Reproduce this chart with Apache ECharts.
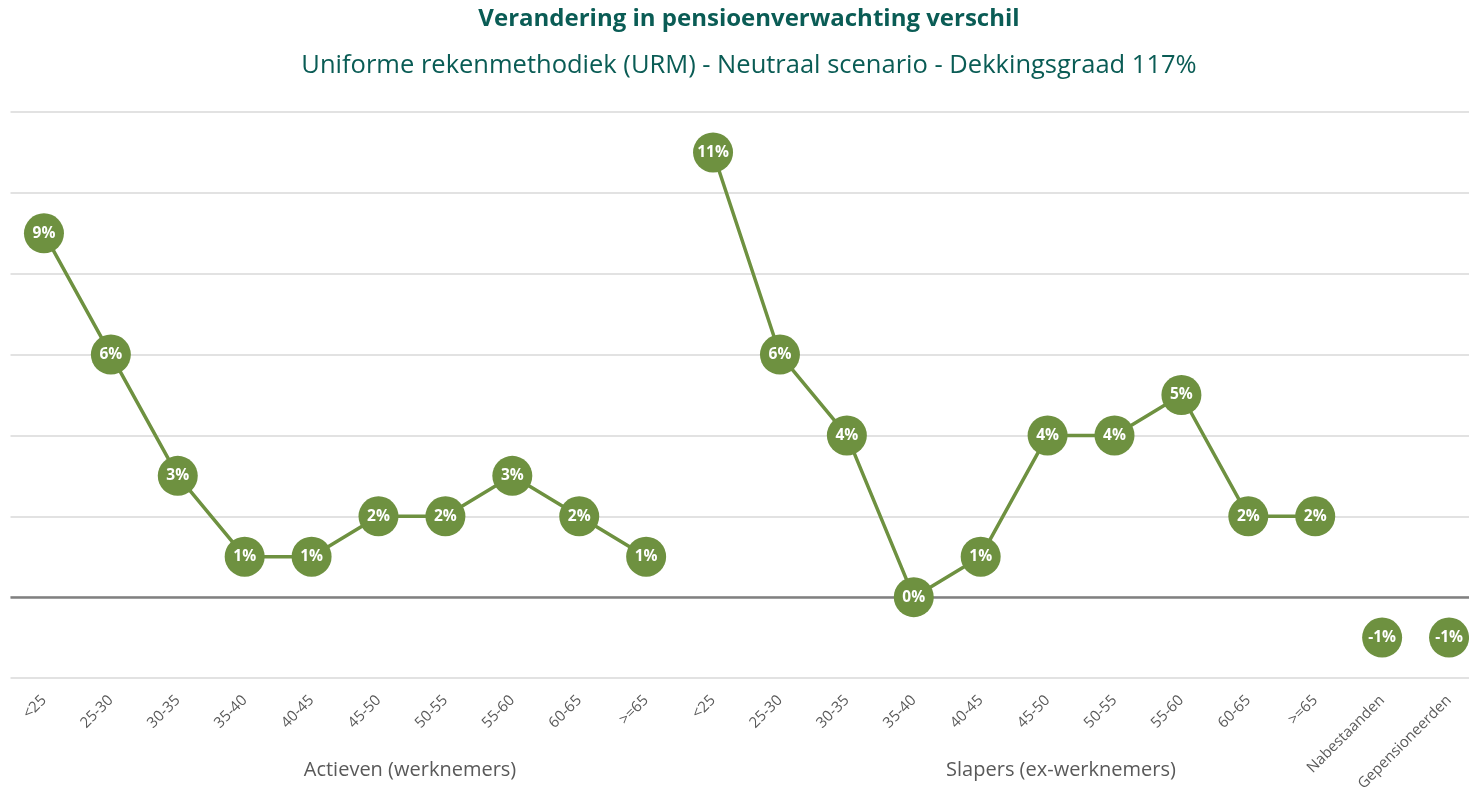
<!DOCTYPE html>
<html>
<head>
<meta charset="utf-8">
<script src="https://cdn.jsdelivr.net/npm/echarts@6/dist/echarts.min.js"></script>
<style>
  html, body { margin: 0; padding: 0; background: #fff; }
  #chart { width: 1469px; height: 798px; }
</style>
</head>
<body>
<div id="chart"></div>
<script>
const categories = [
  '<25', '25-30', '30-35', '35-40', '40-45', '45-50', '50-55', '55-60', '60-65', '>=65',
  '<25 ', '25-30 ', '30-35 ', '35-40 ', '40-45 ', '45-50 ', '50-55 ', '55-60 ', '60-65 ', '>=65 ',
  'Nabestaanden', 'Gepensioneerden'
]
const actieven = [9, 6, 3, 1, 1, 2, 2, 3, 2, 1]
const slapers = [11, 6, 4, 0, 1, 4, 4, 5, 2, 2]
const nabestaanden = [-1]
const gepensioneerden = [-1]
const groupLabels = ['Actieven (werknemers)', 'Slapers (ex-werknemers)']
const titleText = 'Verandering in pensioenverwachting verschil'
const subtitleText = 'Uniforme rekenmethodiek (URM) - Neutraal scenario - Dekkingsgraad 117%'

const green = '#6e9140'
const teal = '#0a5c55'
const font = 'Open Sans'

const pad = ( arr, before, total ) => {
  const out = []
  for ( let i = 0; i < total; i++ ) {
    const j = i - before
    out.push( j >= 0 && j < arr.length ? arr[j] : '-' )
  }
  return out
}

const n = categories.length
const makeSeries = ( name, values, offset ) => ( {
  name,
  type : 'line',
  z : 3,
  data : pad( values, offset, n ),
  connectNulls : false,
  symbol : 'circle',
  symbolSize : 40,
  lineStyle : { color : green, width : 3.5 },
  itemStyle : { color : green },
  label : {
    show : true,
    position : 'inside',
    color : '#fff',
    fontWeight : 'bold',
    fontSize : 15.5,
    fontFamily : font,
    formatter : p => p.value + '%'
  },
  emphasis : { disabled : true },
  animation : false
} )

const chart = echarts.init( document.getElementById( 'chart' ) )

chart.setOption( {
  grid : {
    left : 10.5,
    right : -13.5,
    top : 112,
    bottom : 120,
    containLabel : false,
    outerBoundsMode : 'none'
  },
  xAxis : {
    type : 'category',
    data : categories,
    boundaryGap : true,
    axisLine : { show : false },
    axisTick : { show : false },
    axisLabel : {
      interval : 0,
      rotate : 45,
      margin : 20,
      color : '#595959',
      fontSize : 15,
      fontFamily : font,
      formatter : v => v.trim()
    },
    splitLine : { show : false }
  },
  yAxis : {
    type : 'value',
    min : -2,
    max : 12,
    interval : 2,
    axisLabel : { show : false },
    axisLine : { show : false },
    axisTick : { show : false },
    splitLine : { lineStyle : { color : '#d9d9d9', width : 1.5 } }
  },
  series : [
    {
      // zero line, kept under the markers
      type : 'line',
      z : 1,
      data : [],
      silent : true,
      markLine : {
        z : 1,
        symbol : 'none',
        silent : true,
        label : { show : false },
        lineStyle : { color : '#808080', width : 2.5, type : 'solid' },
        data : [{ yAxis : 0 }]
      }
    },
    makeSeries( 'Actieven', actieven, 0 ),
    makeSeries( 'Slapers', slapers, 10 ),
    makeSeries( 'Nabestaanden', nabestaanden, 20 ),
    makeSeries( 'Gepensioneerden', gepensioneerden, 21 )
  ],
  graphic : [
    {
      type : 'text',
      x : 749,
      y : 7,
      style : { text : titleText, fill : teal, fontSize : 24, fontWeight : 'bold', fontFamily : font, align : 'center' }
    },
    {
      type : 'text',
      x : 749,
      y : 53,
      style : { text : subtitleText, fill : teal, fontSize : 25.5, fontFamily : font, align : 'center' }
    },
    {
      type : 'text',
      x : 410,
      y : 760,
      style : { text : groupLabels[0], fill : '#595959', fontSize : 20, fontFamily : font, align : 'center' }
    },
    {
      type : 'text',
      x : 1061,
      y : 760,
      style : { text : groupLabels[1], fill : '#595959', fontSize : 20, fontFamily : font, align : 'center' }
    }
  ],
  animation : false
} )
</script>
</body>
</html>
